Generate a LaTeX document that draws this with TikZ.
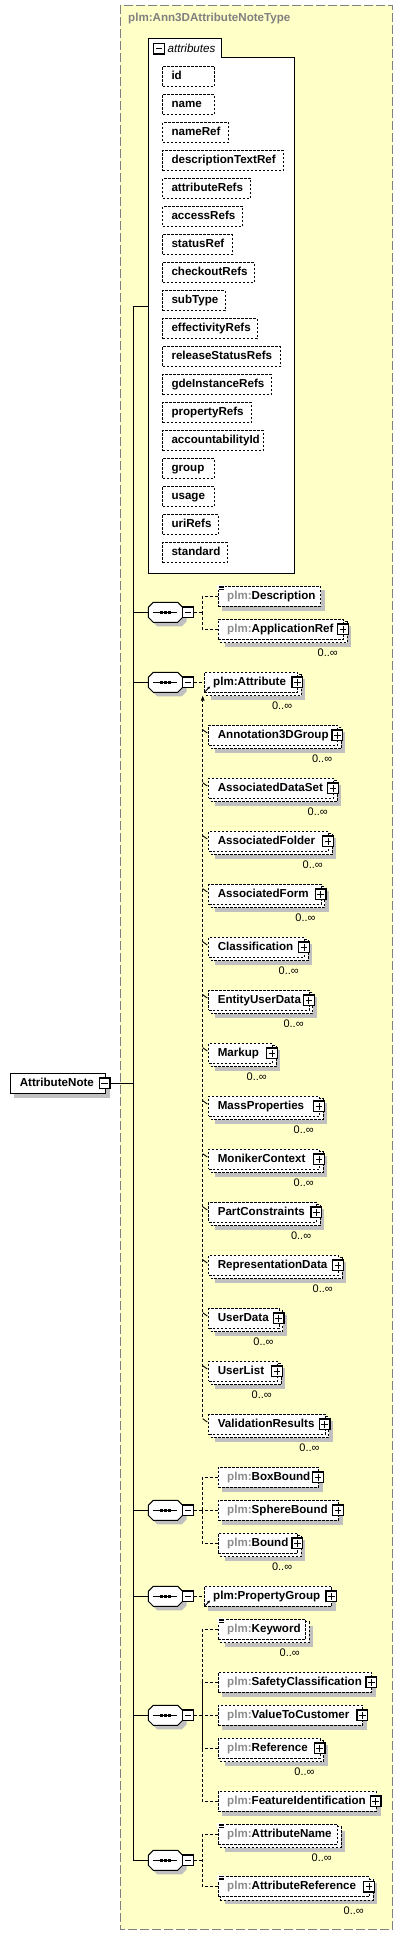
\documentclass[tikz,border=0pt]{standalone}
\usepackage{fontspec}
\setmainfont{Liberation Sans}
\usetikzlibrary{arrows.meta}
\definecolor{yel}{HTML}{FFFFC8}
\definecolor{shd}{HTML}{C0C0C0}
\definecolor{pfx}{HTML}{8C8C8C}
\definecolor{framec}{HTML}{808080}
\pgfdeclarelayer{ylayer}
\pgfdeclarelayer{slayer}
\pgfsetlayers{ylayer,slayer,main}
\newcommand\lbl{\fontsize{11.6}{13}\selectfont\bfseries}
\newcommand\pf{\textcolor{pfx}{plm:}}
\tikzset{
 bx/.style={draw, fill=white, dash pattern=on 2.5pt off 1.5pt, line width=1pt, inner sep=0pt, minimum height=20pt, anchor=west, text height=8.3pt, text depth=2.2pt, font=\lbl},
 conn/.style={dash pattern=on 3pt off 2pt, line width=1pt},
 solidl/.style={line width=1pt},
 sq/.style={draw, fill=white, line width=1.2pt, minimum size=10.7pt, inner sep=0pt, solid},
 occ/.style={font=\fontsize{11}{12}\selectfont, inner sep=0pt, anchor=east},
}
% single element
\newcommand\elS[5]{%
 \pgfmathsetmacro\w{#3-#2}%
 \node[bx, minimum width=\w pt] (#1) at (#2,#4) {\makebox[\w pt][l]{\hspace{9pt}#5}};
 \begin{pgfonlayer}{slayer}
  \fill[shd] ([shift={(4,4)}]#1.north west) rectangle ([shift={(4,4)}]#1.south east);
 \end{pgfonlayer}}
% multi element
\newcommand\elM[5]{%
 \pgfmathsetmacro\w{#3-#2}%
 \node[bx, minimum width=\w pt] (#1) at (#2,#4) {\makebox[\w pt][l]{\hspace{9pt}#5}};
 \begin{pgfonlayer}{slayer}
  \fill[shd] ([shift={(7,7)}]#1.north west) rectangle ([shift={(7,7)}]#1.south east);
  \draw[fill=white, dash pattern=on 2.5pt off 1.5pt, line width=1pt] ([shift={(3,3)}]#1.north west) rectangle ([shift={(3,3)}]#1.south east);
 \end{pgfonlayer}
 \node[occ] (#1-o) at ([shift={(-6,23.5)}]#1.east) {0..∞};}
\newcommand\plusb[1]{%
 \node[sq] (#1-p) at ([xshift=-1pt]#1.east) {};
 \draw[line width=1pt] ([xshift=-3.3pt]#1-p.center) -- ([xshift=3.3pt]#1-p.center);
 \draw[line width=1pt] ([yshift=-3.3pt]#1-p.center) -- ([yshift=3.3pt]#1-p.center);}
\newcommand\minusb[2]{%
 \node[sq] (#1) at (#2) {};
 \draw[line width=1pt] ([xshift=-3.3pt]#1.center) -- ([xshift=3.3pt]#1.center);}
\newcommand\eqi[1]{%
 \fill[white] ([shift={(-1,-1)}]#1.north west) rectangle ([shift={(7,4.5)}]#1.north west);
 \foreach \d in {0.4,2.0,3.6} \draw[line width=0.7pt] ([shift={(0.8,\d)}]#1.north west) -- ([shift={(6.3,\d)}]#1.north west);}
\newcommand\refa[1]{%
 \draw[line width=0.9pt, -{Latex[length=2.8pt,width=2.8pt]}] ([shift={(1.2,-1)}]#1.south west) -- ([shift={(6.5,-6.5)}]#1.south west);}
\newcommand\comp[2]{%
 \node[minimum width=34.4pt, minimum height=20pt, inner sep=0pt, anchor=west] (#1) at (148.3,#2) {};
 \begin{scope}[shift={(4,4)}]
  \fill[shd] (153.3,#2-10) -- (177.7,#2-10) -- (182.7,#2-5) -- (182.7,#2+5) -- (177.7,#2+10) -- (153.3,#2+10) -- (148.3,#2+5) -- (148.3,#2-5) -- cycle;
 \end{scope}
 \draw[line width=1pt, fill=white] (153.3,#2-10) -- (177.7,#2-10) -- (182.7,#2-5) -- (182.7,#2+5) -- (177.7,#2+10) -- (153.3,#2+10) -- (148.3,#2+5) -- (148.3,#2-5) -- cycle;
 \draw[line width=1pt] (153.3,#2) -- (176.7,#2);
 \foreach \xx in {160,164,168} \fill (\xx,#2-1.5) rectangle +(3,3);
 \minusb{#1-m}{188,#2}}
\newcommand\att[4]{%
 \pgfmathsetmacro\cy{66.3+28*#2+10.15}%
 \pgfmathsetmacro\w{#3-162.3}%
 \node[bx, minimum width=\w pt, minimum height=20.3pt] (#1) at (162.3,\cy) {\makebox[\w pt][l]{\hspace{8.7pt}#4}};
 \begin{pgfonlayer}{slayer}
  \fill[shd] ([shift={(4,4)}]#1.north west) rectangle ([shift={(4,4)}]#1.south east);
 \end{pgfonlayer}}
\begin{document}
\begin{tikzpicture}[x=1pt,y=-1pt]
\useasboundingbox (0,0) rectangle (403,1935);
\begin{pgfonlayer}{ylayer}
 \draw[framec, fill=yel, line width=1pt, dash pattern=on 9pt off 3pt] (120.3,5.3) rectangle (392.7,1929.3);
\end{pgfonlayer}
\node[anchor=west, font=\lbl, text=framec, inner sep=0pt] (title) at (128,19) {plm:Ann3DAttributeNoteType};
% attributes box
\node[inner sep=0pt, minimum width=146pt, minimum height=535pt, anchor=north west] (attrs) at (148.3,38.3) {};
\draw[line width=1pt, fill=white] (148.3,38.3) -- (221,38.3) -- (221,57.3) -- (294.3,57.3) -- (294.3,573.3) -- (148.3,573.3) -- cycle;
\minusb{attrs-m}{158.8,48.7}
\node[anchor=west, inner sep=0pt, font=\fontsize{11.6}{13}\selectfont\itshape] (attrs-t) at (167.5,48.3) {attributes};
\att{a1}{0}{213.7}{id}
\att{a2}{1}{213.7}{name}
\att{a3}{2}{228}{nameRef}
\att{a4}{3}{282.7}{descriptionTextRef}
\att{a5}{4}{250}{attributeRefs}
\att{a6}{5}{242}{accessRefs}
\att{a7}{6}{231.7}{statusRef}
\att{a8}{7}{253.7}{checkoutRefs}
\att{a9}{8}{224.7}{subType}
\att{a10}{9}{256.7}{effectivityRefs}
\att{a11}{10}{279.7}{releaseStatusRefs}
\att{a12}{11}{270.7}{gdeInstanceRefs}
\att{a13}{12}{250.7}{propertyRefs}
\att{a14}{13}{262.7}{accountabilityId}
\att{a15}{14}{213.7}{group}
\att{a16}{15}{213.7}{usage}
\att{a17}{16}{217.7}{uriRefs}
\att{a18}{17}{226.7}{standard}
% root
\node[draw, fill=white, line width=1pt, minimum height=20pt, inner sep=0pt, anchor=west, minimum width=94.7pt, text height=8.3pt, text depth=2.2pt, font=\lbl] (root) at (10.3,1083.3) {\makebox[94.7pt][l]{\hspace{9pt}AttributeNote}};
\begin{pgfonlayer}{slayer}
 \fill[shd] ([shift={(4,4)}]root.north west) rectangle ([shift={(4,4)}]root.south east);
\end{pgfonlayer}
\minusb{root-m}{104.7,1083.3}
% trunk
\coordinate (tT) at (133.3,306);
\coordinate (tB) at (133.3,1860.3);
\draw[solidl] (tT) -- (tB);
\draw[solidl] (tT) -- (attrs.west |- tT);
\draw[solidl] (root-m.east) -- (tT |- root-m.east);
% sequence 1
\comp{s1}{612.3}
\elS{desc}{217.7}{320}{596}{\pf Description}
\eqi{desc}
\elM{appref}{217.7}{343}{629.3}{\pf ApplicationRef}
\plusb{appref}
\coordinate (b1) at (202.3,612.3);
\draw[conn] (s1-m.east) -- (b1);
\draw[conn] (desc.west) -| (b1);
\draw[conn] (appref.west) -| (b1);
% sequence 2
\comp{s2}{682.3}
\elM{attr}{203.7}{297.3}{682.3}{plm:Attribute}
\plusb{attr}
\refa{attr}
\draw[conn] (s2-m.east) -- (attr.west);
\elM{m1}{208.3}{337.3}{735.3}{Annotation3DGroup}\plusb{m1}
\elM{m2}{208.3}{333}{788.3}{AssociatedDataSet}\plusb{m2}
\elM{m3}{208.3}{328}{841.3}{AssociatedFolder}\plusb{m3}
\elM{m4}{208.3}{320.7}{894.3}{AssociatedForm}\plusb{m4}
\elM{m5}{208.3}{304}{947.3}{Classification}\plusb{m5}
\elM{m6}{208.3}{308.8}{1000.3}{EntityUserData}\plusb{m6}
\elM{m7}{208.3}{272}{1053.3}{Markup}\plusb{m7}
\elM{m8}{208.3}{319}{1106.3}{MassProperties}\plusb{m8}
\elM{m9}{208.3}{319}{1159.3}{MonikerContext}\plusb{m9}
\elM{m10}{208.3}{316.3}{1212.3}{PartConstraints}\plusb{m10}
\elM{m11}{208.3}{338}{1265.3}{RepresentationData}\plusb{m11}
\elM{m12}{208.3}{278.7}{1318.3}{UserData}\plusb{m12}
\elM{m13}{208.3}{277}{1371.3}{UserList}\plusb{m13}
\elM{m14}{208.3}{324.7}{1424.3}{ValidationResults}\plusb{m14}
\coordinate (subtop) at (202.7,699);
\coordinate (subbot) at (202.7,1418.7);
\draw[conn] (subtop) -- (subbot);
\fill (202.7,695.8) -- (200.8,700.5) -- (204.6,700.5) -- cycle;
\foreach \m in {m1,m2,m3,m4,m5,m6,m7,m8,m9,m10,m11,m12,m13,m14}
 \draw[line width=0.9pt] ([shift={(-5.6,-5.6)}]\m.west) -- ([shift={(-1,-2.3)}]\m.west);
% sequence 3
\comp{s3}{1510.3}
\elS{boxb}{217.7}{318}{1477.3}{\pf BoxBound}\plusb{boxb}
\elS{sphb}{217.7}{338}{1510.3}{\pf SphereBound}\plusb{sphb}
\elM{bnd}{217.7}{297.3}{1543.3}{\pf Bound}\plusb{bnd}
\coordinate (b3) at (202.3,1510.3);
\draw[conn] (s3-m.east) -- (b3);
\draw[conn] (boxb.west) -| (b3);
\draw[conn] (sphb.west) -- (b3);
\draw[conn] (bnd.west) -| (b3);
% sequence 4
\comp{s4}{1596.3}
\elS{pg}{203.7}{331.3}{1596.3}{plm:PropertyGroup}\plusb{pg}
\refa{pg}
\draw[conn] (s4-m.east) -- (pg.west);
% sequence 5
\comp{s5}{1715.3}
\elM{kw}{217.7}{305}{1629.3}{\pf Keyword}
\eqi{kw}
\elS{safe}{217.7}{371.3}{1682.3}{\pf SafetyClassification}\plusb{safe}
\elS{vtc}{217.7}{362.3}{1715.3}{\pf ValueToCustomer}\plusb{vtc}
\elM{refr}{217.7}{319.7}{1748.3}{\pf Reference}\plusb{refr}
\elS{feat}{217.7}{375.7}{1801.3}{\pf FeatureIdentification}\plusb{feat}
\coordinate (b5) at (202.3,1715.3);
\draw[conn] (s5-m.east) -- (b5);
\draw[conn] (kw.west) -| (b5);
\draw[conn] (safe.west) -| (b5);
\draw[conn] (vtc.west) -- (b5);
\draw[conn] (refr.west) -| (b5);
\draw[conn] (feat.west) -| (b5);
% sequence 6
\comp{s6}{1860.3}
\elM{an}{217.7}{337}{1834}{\pf AttributeName}
\eqi{an}
\elM{ar}{217.7}{369}{1886.7}{\pf AttributeReference}
\eqi{ar}
\plusb{ar}
\coordinate (b6) at (202.3,1860.3);
\draw[conn] (s6-m.east) -- (b6);
\draw[conn] (an.west) -| (b6);
\draw[conn] (ar.west) -| (b6);
% trunk to compositors
\foreach \s in {s1,s2,s3,s4,s5,s6}
 \draw[solidl] (tT |- \s.west) -- (\s.west);
\end{tikzpicture}
\end{document}
